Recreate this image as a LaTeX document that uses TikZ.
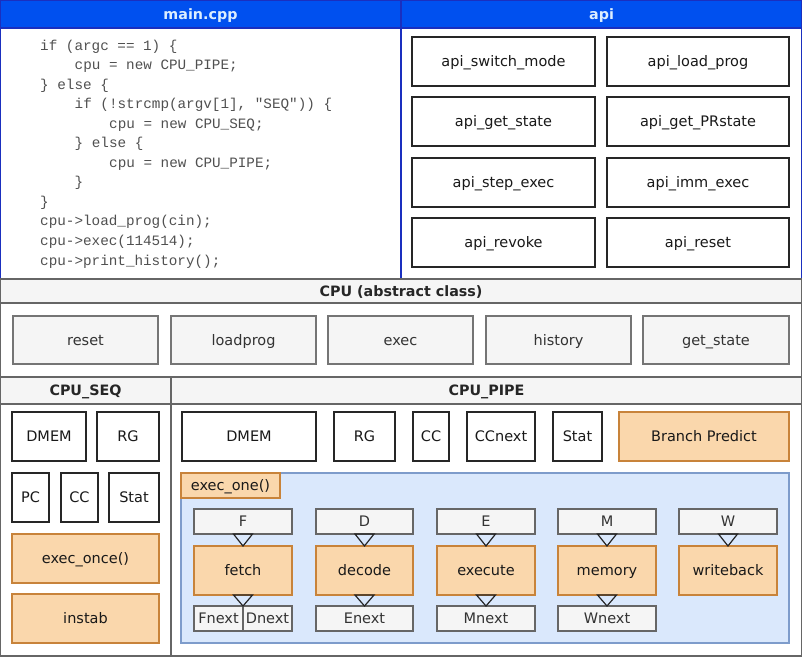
\documentclass[tikz,border=0pt]{standalone}
\usepackage{fontspec}
\setmainfont{DejaVu Sans}
\setmonofont{Liberation Mono}
\definecolor{hblue}{HTML}{0050EF}
\definecolor{hbluedark}{HTML}{1A2FBF}
\definecolor{htext}{HTML}{DCEEFF}
\definecolor{greyfill}{HTML}{F5F5F5}
\definecolor{greyline}{HTML}{666666}
\definecolor{greytext}{HTML}{333333}
\definecolor{codetext}{HTML}{505050}
\definecolor{orfill}{HTML}{FAD7AC}
\definecolor{orline}{HTML}{C8833A}
\definecolor{blfill}{HTML}{DAE8FC}
\definecolor{blline}{HTML}{7E9CCB}
\begin{document}
\begin{tikzpicture}[x=1pt,y=-1pt,
  sz/.style 2 args={minimum width=#1pt, minimum height=#2pt, inner sep=0pt, outer sep=0pt},
  txt/.style={font=\fontsize{14.5}{17}\selectfont, text height=13pt, text depth=3pt},
  bold/.style={font=\fontsize{14.3}{17}\selectfont\bfseries, text height=13pt, text depth=3pt},
  bluepanel/.style={draw=hbluedark, line width=1.5pt, fill=white},
  bluehead/.style={draw=hbluedark, line width=1.5pt, fill=hblue, text=htext, bold},
  apibox/.style={draw=black!85, line width=1.2pt, fill=white, txt, text=black!90},
  greypanel/.style={draw=greyline, line width=1.2pt, fill=white},
  greyhead/.style={draw=greyline, line width=1.2pt, fill=greyfill, bold, text=black!85},
  cpubox/.style={draw=greyline!90, line width=1.2pt, fill=greyfill, txt, text=greytext},
  plainbox/.style={draw=black!85, line width=1.2pt, fill=white, txt, text=black!90},
  orbox/.style={draw=orline, line width=1.2pt, fill=orfill, txt, text=black!90},
  lblbox/.style={draw=greyline, line width=1.2pt, fill=greyfill, txt, text=greytext},
  region/.style={draw=blline, line width=1.2pt, fill=blfill},
  code/.style={anchor=base west, inner sep=0pt, text=codetext, font=\fontsize{14.3}{19.5}\selectfont\ttfamily},
  tri/.style={draw=black!85, line width=1.2pt, line join=miter}
]
\useasboundingbox (0,0) rectangle (802,656);

% ---------- main.cpp panel ----------
\node[bluepanel, sz={401}{279}] (mainpanel) at (200.5,139.5) {};
\node[bluehead, sz={401}{28}] (mainhead) at (200.5,14) {main.cpp};
\node[code] (c1) at (40,50) {if (argc == 1) \{};
\node[code] (c2) at (74.5,69.5) {cpu = new CPU\_PIPE;};
\node[code] (c3) at (40,89) {\} else \{};
\node[code] (c4) at (74.5,108.6) {if (!strcmp(argv[1], "SEQ")) \{};
\node[code] (c5) at (109,128.2) {cpu = new CPU\_SEQ;};
\node[code] (c6) at (74.5,147.7) {\} else \{};
\node[code] (c7) at (109,167.3) {cpu = new CPU\_PIPE;};
\node[code] (c8) at (74.5,186.8) {\}};
\node[code] (c9) at (40,206.4) {\}};
\node[code] (c10) at (40,225.9) {cpu->load\_prog(cin);};
\node[code] (c11) at (40,245.5) {cpu->exec(114514);};
\node[code] (c12) at (40,265) {cpu->print\_history();};

% ---------- api panel ----------
\node[bluepanel, sz={401}{279}] (apipanel) at (601.5,139.5) {};
\node[bluehead, sz={401}{28}] (apihead) at (601.5,14) {api};
\node[apibox, sz={183}{49}] (a1) at (503.5,61.5) {api\_switch\_mode};
\node[apibox, sz={182}{49}] (a2) at (698,61.5) {api\_load\_prog};
\node[apibox, sz={183}{49}] (a3) at (503.5,121.5) {api\_get\_state};
\node[apibox, sz={182}{49}] (a4) at (698,121.5) {api\_get\_PRstate};
\node[apibox, sz={183}{49}] (a5) at (503.5,182.5) {api\_step\_exec};
\node[apibox, sz={182}{49}] (a6) at (698,182.5) {api\_imm\_exec};
\node[apibox, sz={183}{49}] (a7) at (503.5,242.5) {api\_revoke};
\node[apibox, sz={182}{49}] (a8) at (698,242.5) {api\_reset};

% ---------- CPU abstract class ----------
\node[greypanel, sz={802}{74}] (cpubody) at (401,340) {};
\node[greyhead, sz={802}{24}] (cpuhead) at (401,291) {CPU (abstract class)};
\node[cpubox, sz={145}{48}] (reset) at (85.5,340) {reset};
\node[cpubox, sz={145}{48}] (loadprog) at (243.5,340) {loadprog};
\node[cpubox, sz={145}{48}] (exec) at (400.5,340) {exec};
\node[cpubox, sz={145}{48}] (history) at (558.5,340) {history};
\node[cpubox, sz={146}{48}] (getstate) at (716,340) {get\_state};

% ---------- CPU_SEQ ----------
\node[greypanel, sz={171}{279}] (seqpanel) at (85.5,516.5) {};
\node[greyhead, sz={171}{27}] (seqhead) at (85.5,390.5) {CPU\_SEQ};
\node[plainbox, sz={74}{49}] (sdmem) at (49,436.5) {DMEM};
\node[plainbox, sz={62}{49}] (srg) at (128,436.5) {RG};
\node[plainbox, sz={37}{49}] (spc) at (30.5,497.5) {PC};
\node[plainbox, sz={37}{49}] (scc) at (79.5,497.5) {CC};
\node[plainbox, sz={50}{49}] (sstat) at (134,497.5) {Stat};
\node[orbox, sz={147}{49}] (execonce) at (85.5,558.5) {exec\_once()};
\node[orbox, sz={147}{49}] (instab) at (85.5,618.5) {instab};

% ---------- CPU_PIPE ----------
\node[greypanel, sz={631}{279}] (pipepanel) at (486.5,516.5) {};
\node[greyhead, sz={631}{27}] (pipehead) at (486.5,390.5) {CPU\_PIPE};
\node[plainbox, sz={134}{49}] (pdmem) at (249,436.5) {DMEM};
\node[plainbox, sz={61}{49}] (prg) at (364.5,436.5) {RG};
\node[plainbox, sz={36}{49}] (pcc) at (431,436.5) {CC};
\node[plainbox, sz={68}{49}] (pccnext) at (501,436.5) {CCnext};
\node[plainbox, sz={49}{49}] (pstat) at (577.5,436.5) {Stat};
\node[orbox, sz={170}{49}] (bp) at (704,436.5) {Branch Predict};

\node[region, sz={608}{170}] (execreg) at (485,558) {};
\node[orbox, sz={99}{25}] (execone) at (230.5,485.5) {exec\_one()};

% stage labels
\node[lblbox, sz={98}{25}] (lF) at (243,521.5) {F};
\node[lblbox, sz={97}{25}] (lD) at (364.5,521.5) {D};
\node[lblbox, sz={98}{25}] (lE) at (486,521.5) {E};
\node[lblbox, sz={98}{25}] (lM) at (607,521.5) {M};
\node[lblbox, sz={98}{25}] (lW) at (728,521.5) {W};
% stages
\node[orbox, sz={98}{49}] (fetch) at (243,570.5) {fetch};
\node[orbox, sz={97}{49}] (decode) at (364.5,570.5) {decode};
\node[orbox, sz={98}{49}] (execute) at (486,570.5) {execute};
\node[orbox, sz={98}{49}] (memory) at (607,570.5) {memory};
\node[orbox, sz={98}{49}] (writeback) at (728,570.5) {writeback};
% next registers
\node[lblbox, sz={49}{25}] (fnext) at (218.5,618.5) {Fnext};
\node[lblbox, sz={49}{25}] (dnext) at (267.5,618.5) {Dnext};
\node[lblbox, sz={97}{25}] (enext) at (364.5,618.5) {Enext};
\node[lblbox, sz={98}{25}] (mnext) at (486,618.5) {Mnext};
\node[lblbox, sz={98}{25}] (wnext) at (607,618.5) {Wnext};

% connectors (open triangles from source bottom to target top)
\draw[tri] (lF.south) ++(-9.5,0) -- ++(19,0) -- (fetch.north) -- cycle;
\draw[tri] (lD.south) ++(-9.5,0) -- ++(19,0) -- (decode.north) -- cycle;
\draw[tri] (lE.south) ++(-9.5,0) -- ++(19,0) -- (execute.north) -- cycle;
\draw[tri] (lM.south) ++(-9.5,0) -- ++(19,0) -- (memory.north) -- cycle;
\draw[tri] (lW.south) ++(-9.5,0) -- ++(19,0) -- (writeback.north) -- cycle;
\draw[tri] (fetch.south) ++(-9.5,0) -- ++(19,0) -- (fnext.north east) -- cycle;
\draw[tri] (decode.south) ++(-9.5,0) -- ++(19,0) -- (enext.north) -- cycle;
\draw[tri] (execute.south) ++(-9.5,0) -- ++(19,0) -- (mnext.north) -- cycle;
\draw[tri] (memory.south) ++(-9.5,0) -- ++(19,0) -- (wnext.north) -- cycle;
\end{tikzpicture}
\end{document}
